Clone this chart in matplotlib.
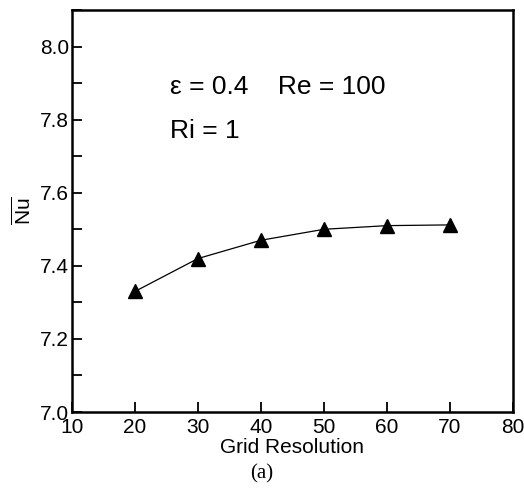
import matplotlib
matplotlib.use("Agg")
import matplotlib.pyplot as plt
from matplotlib.ticker import MultipleLocator, FormatStrFormatter

# grid independence study
grid_res = [20, 30, 40, 50, 60, 70]
nu_avg = [7.33, 7.42, 7.47, 7.50, 7.51, 7.512]

plt.rcParams['font.family'] = ['Liberation Sans', 'DejaVu Sans']
plt.rcParams['mathtext.fontset'] = 'custom'
plt.rcParams['mathtext.rm'] = 'Liberation Sans'

fig = plt.figure(figsize=(5.24, 4.88), dpi=100)
ax = fig.add_axes([0.1374, 0.1557, 0.8416, 0.8238])

ax.plot(grid_res, nu_avg, color='black', lw=0.9, marker='^', ms=10,
        markerfacecolor='black', markeredgecolor='black')

ax.set_xlim(10, 80)
ax.set_ylim(7.0, 8.1)
ax.xaxis.set_major_locator(MultipleLocator(10))
ax.yaxis.set_minor_locator(MultipleLocator(0.1))
ax.set_yticks([7.0, 7.2, 7.4, 7.6, 7.8, 8.0])
ax.yaxis.set_major_formatter(FormatStrFormatter('%.1f'))

ax.tick_params(which='both', direction='in', top=False, right=False,
               labelsize=15, width=1.3, pad=2, length=7)
ax.tick_params(axis='x', pad=4)
for sp in ax.spines.values():
    sp.set_linewidth(1.8)

ax.set_xlabel('Grid Resolution', fontsize=15, labelpad=1)
ax.set_ylabel(r'$\overline{\mathrm{Nu}}$', fontsize=15, labelpad=4)

ax.text(25.6, 7.89, 'ε = 0.4    Re = 100', fontsize=19, va='center')
ax.text(25.6, 7.77, 'Ri = 1', fontsize=19, va='center')

fig.text(0.5, 0.03, '(a)', fontsize=15, ha='center', va='center',
         family=['Liberation Serif', 'DejaVu Serif'])

fig.savefig('out.png', dpi=100, facecolor='white')
